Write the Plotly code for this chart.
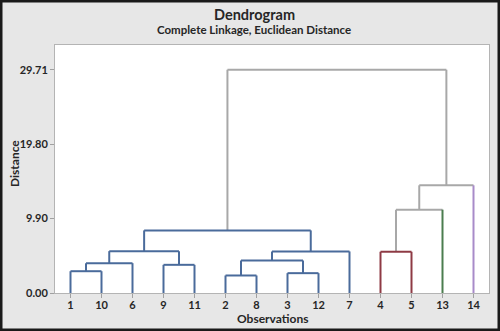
import plotly.graph_objects as go

# Leaf order along the x axis (observation numbers)
obs_order = ["1", "10", "6", "9", "11", "2", "8", "3", "12", "7", "4", "5", "13", "14"]
# Cluster colour of each leaf
leaf_color = ["blue"] * 10 + ["red", "red", "green", "purple"]

# Linkage steps: node name, left child, right child, merge distance, colour group
merge_name = ["c1", "c2", "c3", "c4", "c5", "c6", "c7", "c8", "c9", "c10", "c11", "c12", "c13"]
merge_left = ["2", "3", "1", "9", "c3", "c1", "4", "c6", "c5", "c9", "c7", "c11", "c10"]
merge_right = ["8", "12", "10", "11", "6", "c2", "5", "7", "c4", "c8", "13", "14", "c12"]
merge_height = [2.33, 2.64, 2.90, 3.75, 3.97, 4.33, 5.49, 5.53, 5.57, 8.33, 11.09, 14.33, 29.71]
merge_color = ["blue", "blue", "blue", "blue", "blue", "blue", "red", "blue", "blue", "blue",
               "gray", "gray", "gray"]

y_ticks = [0.00, 9.90, 19.80, 29.71]

palette = {"blue": "#4a6b9b", "red": "#8e3a44", "green": "#4b7d4f",
           "purple": "#a88bc9", "gray": "#a8a8a8"}

pos, hgt, col, is_leaf = {}, {}, {}, {}
for i, (o, c) in enumerate(zip(obs_order, leaf_color)):
    pos[o] = i + 1
    hgt[o] = 0.0
    col[o] = c
    is_leaf[o] = True

segs = {k: ([], []) for k in palette}

def add(c, xs, ys):
    segs[c][0].extend(xs + [None])
    segs[c][1].extend(ys + [None])

for n, a, b, h, c in zip(merge_name, merge_left, merge_right, merge_height, merge_color):
    for ch in (a, b):
        vc = c if c != "gray" else (col[ch] if is_leaf[ch] else "gray")
        add(vc, [pos[ch], pos[ch]], [hgt[ch], h])
    add(c, [pos[a], pos[b]], [h, h])
    pos[n] = (pos[a] + pos[b]) / 2
    hgt[n] = h
    col[n] = c
    is_leaf[n] = False

fig = go.Figure()
for k in ["gray", "blue", "red", "green", "purple"]:
    xs, ys = segs[k]
    if xs:
        fig.add_trace(go.Scatter(x=xs, y=ys, mode="lines",
                                 line=dict(color=palette[k], width=2),
                                 hoverinfo="skip", showlegend=False))

W, H = 500, 331
L, R, T, B = 55, 11, 45, 38
pw, ph = W - L - R, H - T - B

def px(x, y):
    """pixel (from top-left of page) -> paper coords"""
    return (x - L) / pw, 1 + (T - y) / ph

font = "Lato"
tc = "#262626"
axis_common = dict(tickmode="array", ticks="outside", ticklen=4, tickcolor="#a0a0a0",
                   showline=True, linecolor="#b4b4b4", linewidth=1, mirror=True,
                   showgrid=False, zeroline=False, fixedrange=True, automargin=False,
                   tickfont=dict(size=11, weight="bold", color=tc, family=font))

def ann(text, x, y, size, angle=0):
    ax, ay = px(x, y)
    return dict(text=text, x=ax, y=ay, xref="paper", yref="paper", showarrow=False,
                textangle=angle, xanchor="center", yanchor="middle",
                font=dict(size=size, weight="bold", color=tc, family=font))

fig.update_layout(
    width=W, height=H,
    margin=dict(l=L, r=R, t=T, b=B, autoexpand=False),
    paper_bgcolor="#e7e7e7", plot_bgcolor="#ffffff",
    font=dict(family=font, color=tc, size=11),
    showlegend=False,
    xaxis=dict(range=[0.5, 14.5], tickvals=list(range(1, len(obs_order) + 1)),
               ticktext=obs_order, ticklabelstandoff=-2, **axis_common),
    yaxis=dict(range=[0, 33.0], tickvals=y_ticks,
               ticktext=["%.2f" % v for v in y_ticks], **axis_common),
    annotations=[
        ann("Dendrogram", 254, 14, 14.5),
        ann("Complete Linkage, Euclidean Distance", 254, 29, 11.5),
        ann("Observations", 272, 318, 12),
        ann("Distance", 14, 164, 12, angle=-90),
    ],
    shapes=[dict(type="rect", xref="paper", yref="paper",
                 x0=-L / pw, x1=1 + R / pw, y0=-B / ph, y1=1 + T / ph,
                 line=dict(color="#1a1a1a", width=5), layer="above")],
)

fig.write_html("out.html")
